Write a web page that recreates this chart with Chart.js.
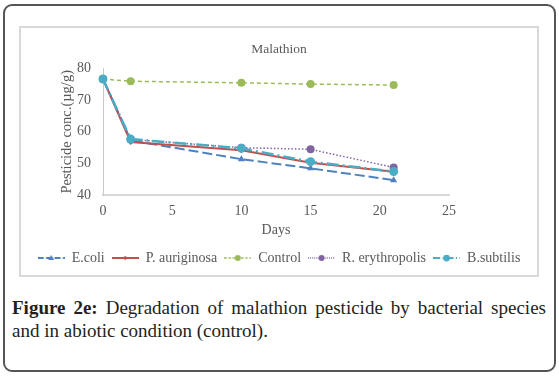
<!DOCTYPE html>
<html>
<head>
<meta charset="utf-8">
<script src="https://cdn.jsdelivr.net/npm/chart.js@4.4.0/dist/chart.umd.min.js"></script>
<style>
  body { margin: 0; background: #fff; width: 559px; height: 378px; position: relative; overflow: hidden; }
  #frame { position: absolute; left: 3px; top: 4px; width: 549px; height: 364px; border: 2px solid #555; border-radius: 9px; }
  #box { position: absolute; left: 19px; top: 26px; width: 516px; height: 247px; border: 2px solid #d9d9d9; }
  #caption { position: absolute; left: 12px; top: 296px; width: 534px; font: 19px/23px "Liberation Serif", "Times New Roman", serif; text-align: justify; color: #231f20; }
</style>
</head>
<body>
<div id="frame"></div>
<div id="box"><canvas id="chart" width="516" height="247"></canvas></div>
<div id="caption"><b>Figure 2e:</b> Degradation of malathion pesticide by bacterial species and in abiotic condition (control).</div>

<script>
// days of sampling
const days = [0, 2, 10, 15, 21];

// pesticide conc. (µg/g)
const ecoli = [76.6, 57.3, 51.4, 48.5, 44.8];
const pAuriginosa = [76.6, 56.8, 54.2, 50.3, 47.4];
const control = [76.6, 75.9, 75.4, 75.0, 74.7];
const rErythropolis = [76.6, 57.6, 55.0, 54.5, 48.8];
const bSubtilis = [76.6, 57.7, 54.8, 50.6, 47.5];

const seriesNames = ["E.coli", "P. auriginosa", "Control", "R. erythropolis", "B.subtilis"];
const xTicks = [0, 5, 10, 15, 20, 25];
const yTicks = [40, 50, 60, 70, 80];

const textColor = "#595959";
Chart.defaults.font.family = '"Liberation Serif", "Times New Roman", serif';
Chart.defaults.color = textColor;

const styles = [
    { color: "#4F81BD", dash: [10, 4], width: 2, point: "triangle", radius: 4 },
    { color: "#C0504D", dash: [], width: 2, point: "rectRot", radius: 3 },
    { color: "#9BBB59", dash: [4, 3], width: 1.5, point: "circle", radius: 4 },
    { color: "#8064A2", dash: [1.5, 2], width: 1.5, point: "circle", radius: 4 },
    { color: "#4BACC6", dash: [12, 4, 2, 4], width: 2.5, point: "circle", radius: 4.5 }
];
const values = [ecoli, pAuriginosa, control, rErythropolis, bSubtilis];

// little line+marker pictures for the legend, like the Excel one
function makeSample(st) {
    const c = document.createElement("canvas");
    c.width = 27; c.height = 12;
    const g = c.getContext("2d");
    g.strokeStyle = st.color;
    g.lineWidth = Math.min(st.width, 2);
    g.setLineDash(st.dash.map(v => v * 0.6));
    g.beginPath(); g.moveTo(0, 6); g.lineTo(27, 6); g.stroke();
    g.setLineDash([]);
    g.fillStyle = st.color;
    g.beginPath();
    const r = st.radius * 0.75;
    const cx = 13.5;
    if (st.point === "triangle") {
        g.moveTo(cx, 6 - r); g.lineTo(cx + r, 6 + r * 0.7); g.lineTo(cx - r, 6 + r * 0.7);
    } else if (st.point === "rectRot") {
        g.moveTo(cx, 6 - r); g.lineTo(cx + r, 6); g.lineTo(cx, 6 + r); g.lineTo(cx - r, 6);
    } else {
        g.arc(cx, 6, r, 0, Math.PI * 2);
    }
    g.closePath(); g.fill();
    return c;
}
const samples = styles.map(makeSample);

const datasets = seriesNames.map((name, i) => ({
    label: name,
    data: days.map((d, k) => ({ x: d, y: values[i][k] })),
    borderColor: styles[i].color,
    backgroundColor: styles[i].color,
    borderWidth: styles[i].width,
    borderDash: styles[i].dash,
    pointStyle: styles[i].point,
    pointRadius: styles[i].radius,
    pointBorderWidth: 0,
    tension: 0,
    clip: false,
    order: seriesNames.length - i
}));

new Chart(document.getElementById("chart"), {
    type: "line",
    data: { datasets: datasets },
    options: {
        responsive: false,
        animation: false,
        layout: { padding: { left: 0, right: 0, top: 0, bottom: 0 } },
        plugins: {
            title: {
                display: true,
                text: "Malathion",
                color: textColor,
                font: { size: 13.5, weight: "normal" },
                padding: { top: 13, bottom: 11 }
            },
            legend: {
                position: "bottom",
                labels: {
                    usePointStyle: true,
                    pointStyleWidth: 27,
                    padding: 7,
                    color: textColor,
                    font: { size: 14 },
                    generateLabels: chart => chart.data.datasets.map((ds, i) => ({
                        text: ds.label,
                        pointStyle: samples[i],
                        fillStyle: "transparent",
                        strokeStyle: "transparent",
                        lineWidth: 0,
                        hidden: false,
                        datasetIndex: i,
                        fontColor: textColor
                    }))
                }
            },
            tooltip: { enabled: false }
        },
        scales: {
            x: {
                type: "linear",
                min: 0, max: 25,
                afterBuildTicks: s => { s.ticks = xTicks.map(v => ({ value: v })); },
                grid: { display: true, drawOnChartArea: false, drawTicks: false },
                border: { color: "#d9d9d9", width: 2 },
                ticks: { padding: 8, color: textColor, font: { size: 14 } },
                title: { display: true, text: "Days", color: textColor, font: { size: 14 }, padding: { top: -6, bottom: 5 } }
            },
            y: {
                type: "linear",
                min: 40, max: 80,
                afterBuildTicks: s => { s.ticks = yTicks.map(v => ({ value: v })); },
                afterFit: s => { s.width = 82; },
                grid: { display: true, drawOnChartArea: false, drawTicks: false },
                border: { color: "#c8c8c8", width: 1 },
                ticks: { padding: 12, color: textColor, font: { size: 14 } },
                title: { display: true, text: "Pesticide conc.(µg/g)", color: textColor, font: { size: 14.5 }, padding: { top: 37, bottom: 0 } }
            },
            yr: {
                type: "linear",
                position: "right",
                display: true,
                afterFit: s => { s.width = 88; },
                grid: { display: false },
                border: { display: false },
                ticks: { display: false }
            }
        }
    }
});
</script>
</body>
</html>
